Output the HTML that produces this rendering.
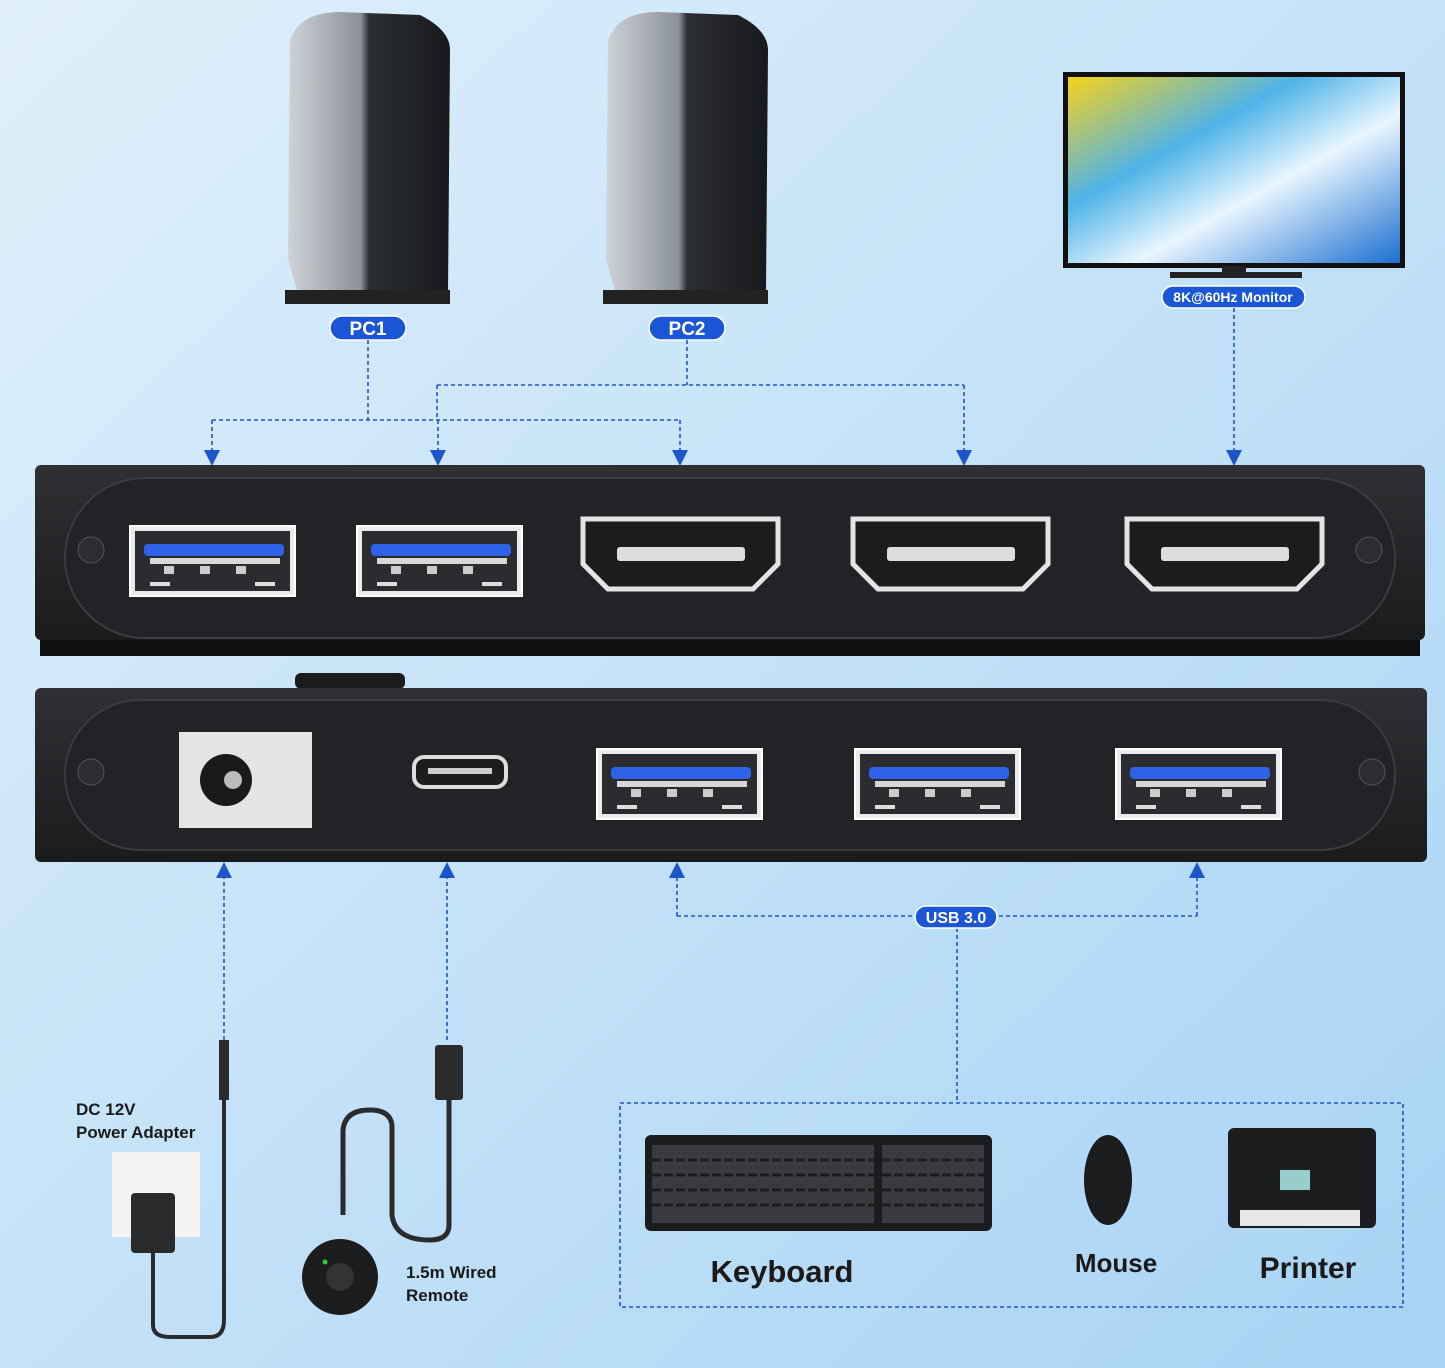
<!DOCTYPE html>
<html><head><meta charset="utf-8"><style>
html,body{margin:0;padding:0;width:1445px;height:1368px;overflow:hidden}
svg text{font-family:"Liberation Sans",sans-serif;font-weight:bold}
</style></head><body>
<svg width="1445" height="1368" xmlns="http://www.w3.org/2000/svg">
<defs>
<linearGradient id="bg" x1="0" y1="0" x2="1" y2="1"><stop offset="0" stop-color="#dff0fb"/><stop offset="0.5" stop-color="#c4e2f8"/><stop offset="1" stop-color="#a8d3f4"/></linearGradient>
<linearGradient id="pc" x1="0" x2="1"><stop offset="0" stop-color="#cfd3d8"/><stop offset="0.45" stop-color="#8a9098"/><stop offset="0.5" stop-color="#2b2e33"/><stop offset="1" stop-color="#17191c"/></linearGradient>
<linearGradient id="scr" x1="0" y1="0" x2="1" y2="1"><stop offset="0" stop-color="#f7d21a"/><stop offset="0.35" stop-color="#4fb3e8"/><stop offset="0.6" stop-color="#e9f6ff"/><stop offset="1" stop-color="#1c6fd1"/></linearGradient>
<linearGradient id="dev" x1="0" y1="0" x2="0" y2="1"><stop offset="0" stop-color="#2e3033"/><stop offset="1" stop-color="#1a1b1d"/></linearGradient>
<marker id="ar" markerWidth="10" markerHeight="10" refX="5" refY="5" orient="auto"><path d="M0,0 L10,5 L0,10 z" fill="#1e55c8"/></marker>
<g id="usb"><rect x="0" y="0" width="165" height="70" fill="#e8eaec" stroke="#fff" stroke-width="2"/><rect x="5" y="5" width="155" height="60" fill="#2a2c2f"/><rect x="14" y="18" width="140" height="12" rx="4" fill="#2f62e6"/><rect x="20" y="32" width="130" height="6" fill="#d8d8d8"/><rect x="34" y="40" width="10" height="8" fill="#ccc"/><rect x="70" y="40" width="10" height="8" fill="#ccc"/><rect x="106" y="40" width="10" height="8" fill="#ccc"/><rect x="20" y="56" width="20" height="4" fill="#ddd"/><rect x="125" y="56" width="20" height="4" fill="#ddd"/></g>
<g id="hdmi"><path d="M0,0 H195 V45 L170,70 H25 L0,45 Z" fill="#1c1d1f" stroke="#e2e4e6" stroke-width="5"/><rect x="34" y="28" width="128" height="14" rx="3" fill="#ddd"/></g>
</defs>
<rect width="1445" height="1368" fill="url(#bg)"/>

<!-- PCs -->
<g>
<path d="M290,40 Q300,12 340,12 L420,15 Q450,30 450,50 L448,292 L300,300 L288,260 Z" fill="url(#pc)"/>
<rect x="285" y="290" width="165" height="14" fill="#222"/>
</g>
<g>
<path d="M608,40 Q618,12 658,12 L738,15 Q768,30 768,50 L766,292 L618,300 L606,260 Z" fill="url(#pc)"/>
<rect x="603" y="290" width="165" height="14" fill="#222"/>
</g>
<!-- monitor -->
<rect x="1063" y="72" width="342" height="196" fill="#111"/>
<rect x="1068" y="77" width="332" height="186" fill="url(#scr)"/>
<rect x="1222" y="266" width="24" height="8" fill="#222"/>
<rect x="1170" y="272" width="132" height="6" fill="#222"/>

<!-- labels -->
<rect x="330" y="316" width="76" height="24" rx="12" fill="#1a56d6" stroke="#fff" stroke-width="1.5"/><text x="368" y="335" font-size="19" fill="#fff" text-anchor="middle">PC1</text>
<rect x="649" y="316" width="76" height="24" rx="12" fill="#1a56d6" stroke="#fff" stroke-width="1.5"/><text x="687" y="335" font-size="19" fill="#fff" text-anchor="middle">PC2</text>
<rect x="1162" y="286" width="143" height="22" rx="11" fill="#1a56d6" stroke="#fff" stroke-width="1.5"/><text x="1233" y="302" font-size="14" fill="#fff" text-anchor="middle">8K@60Hz Monitor</text>

<!-- dashed connectors top -->
<g stroke="#1e55c8" stroke-width="1.6" stroke-dasharray="4,3" fill="none">
<path d="M368,340 V420"/><path d="M212,420 H680"/>
<path d="M212,420 V458" marker-end="url(#ar)"/><path d="M438,420 V458" marker-end="url(#ar)"/><path d="M680,420 V458" marker-end="url(#ar)"/>
<path d="M687,340 V385"/><path d="M437,385 H964"/><path d="M437,385 V420"/>
<path d="M964,385 V458" marker-end="url(#ar)"/>
<path d="M1234,308 V458" marker-end="url(#ar)"/>
</g>

<!-- top device -->
<rect x="35" y="465" width="1390" height="175" rx="6" fill="url(#dev)"/>
<rect x="40" y="640" width="1380" height="16" fill="#0f1011"/>
<rect x="65" y="478" width="1330" height="160" rx="80" fill="#222326" stroke="#3a3c40" stroke-width="2"/>
<circle cx="91" cy="550" r="13" fill="#2c2d30" stroke="#555"/><circle cx="1369" cy="550" r="13" fill="#2c2d30" stroke="#555"/>
<use href="#usb" x="130" y="526"/><use href="#usb" x="357" y="526"/>
<use href="#hdmi" x="583" y="519"/><use href="#hdmi" x="853" y="519"/><use href="#hdmi" x="1127" y="519"/>

<!-- bottom device -->
<rect x="295" y="673" width="110" height="16" rx="6" fill="#1a1b1d"/>
<rect x="35" y="688" width="1392" height="174" rx="6" fill="url(#dev)"/>
<rect x="65" y="700" width="1330" height="150" rx="75" fill="#222326" stroke="#3a3c40" stroke-width="2"/>
<circle cx="91" cy="772" r="13" fill="#2c2d30" stroke="#555"/><circle cx="1372" cy="772" r="13" fill="#2c2d30" stroke="#555"/>
<rect x="179" y="732" width="133" height="96" fill="#e4e4e4"/>
<circle cx="226" cy="780" r="26" fill="#1a1a1a"/><circle cx="233" cy="780" r="9" fill="#bbb"/>
<rect x="414" y="757" width="92" height="30" rx="10" fill="#1c1d1f" stroke="#ddd" stroke-width="4"/><rect x="428" y="768" width="64" height="6" fill="#ccc"/>
<use href="#usb" x="597" y="749"/><use href="#usb" x="855" y="749"/><use href="#usb" x="1116" y="749"/>

<!-- dashed connectors bottom -->
<g stroke="#1e55c8" stroke-width="1.6" stroke-dasharray="4,3" fill="none">
<path d="M224,1040 V870" marker-end="url(#ar)"/>
<path d="M447,1040 V870" marker-end="url(#ar)"/>
<path d="M677,916 V870" marker-end="url(#ar)"/>
<path d="M1197,916 V870" marker-end="url(#ar)"/>
<path d="M677,916 H1197"/>
<path d="M957,928 V1103"/>
<rect x="620" y="1103" width="783" height="204"/>
</g>
<rect x="915" y="906" width="82" height="22" rx="11" fill="#1a56d6" stroke="#fff" stroke-width="1.5"/><text x="956" y="923" font-size="16" fill="#fff" text-anchor="middle">USB 3.0</text>

<!-- adapter & remote -->
<rect x="112" y="1152" width="88" height="85" fill="#f4f4f4"/>
<rect x="131" y="1193" width="44" height="60" rx="4" fill="#2a2b2d"/>
<path d="M153,1253 V1325 Q153,1337 170,1337 H210 Q224,1337 224,1320 V1040" stroke="#2a2b2d" stroke-width="4" fill="none"/>
<rect x="219" y="1040" width="10" height="60" fill="#2a2b2d"/>
<text x="76" y="1115" font-size="17" fill="#1a1a1a">DC 12V</text>
<text x="76" y="1138" font-size="17" fill="#1a1a1a">Power Adapter</text>
<rect x="435" y="1045" width="28" height="55" rx="3" fill="#2a2b2d"/>
<path d="M449,1100 V1225 Q449,1240 430,1240 Q395,1240 392,1215 V1125 Q390,1110 370,1110 Q345,1110 343,1130 V1215" stroke="#2a2b2d" stroke-width="5" fill="none"/>
<circle cx="340" cy="1277" r="38" fill="#1c1d1f"/><circle cx="340" cy="1277" r="14" fill="#333"/><circle cx="325" cy="1262" r="2.5" fill="#3c3"/>
<text x="406" y="1278" font-size="17" fill="#1a1a1a">1.5m Wired</text>
<text x="406" y="1301" font-size="17" fill="#1a1a1a">Remote</text>

<!-- keyboard mouse printer -->
<rect x="645" y="1135" width="347" height="96" rx="6" fill="#1b1c1e"/>
<g fill="#3a3b3e"><rect x="652" y="1145" width="222" height="78"/><rect x="882" y="1145" width="102" height="78"/></g>
<path d="M652,1160 H874 M652,1175 H874 M652,1190 H874 M652,1205 H874 M882,1160 H984 M882,1175 H984 M882,1190 H984 M882,1205 H984" stroke="#1b1c1e" stroke-width="3" stroke-dasharray="9,3"/>
<ellipse cx="1108" cy="1180" rx="24" ry="45" fill="#1b1c1e"/>
<rect x="1228" y="1128" width="148" height="100" rx="6" fill="#1c1d1f"/>
<rect x="1240" y="1210" width="120" height="16" fill="#e6e6e6"/>
<rect x="1280" y="1170" width="30" height="20" fill="#9cc"/>
<text x="782" y="1282" font-size="31" fill="#1a1a1a" text-anchor="middle">Keyboard</text>
<text x="1116" y="1272" font-size="26" fill="#1a1a1a" text-anchor="middle">Mouse</text>
<text x="1308" y="1278" font-size="30" fill="#1a1a1a" text-anchor="middle">Printer</text>
</svg>
</body></html>
